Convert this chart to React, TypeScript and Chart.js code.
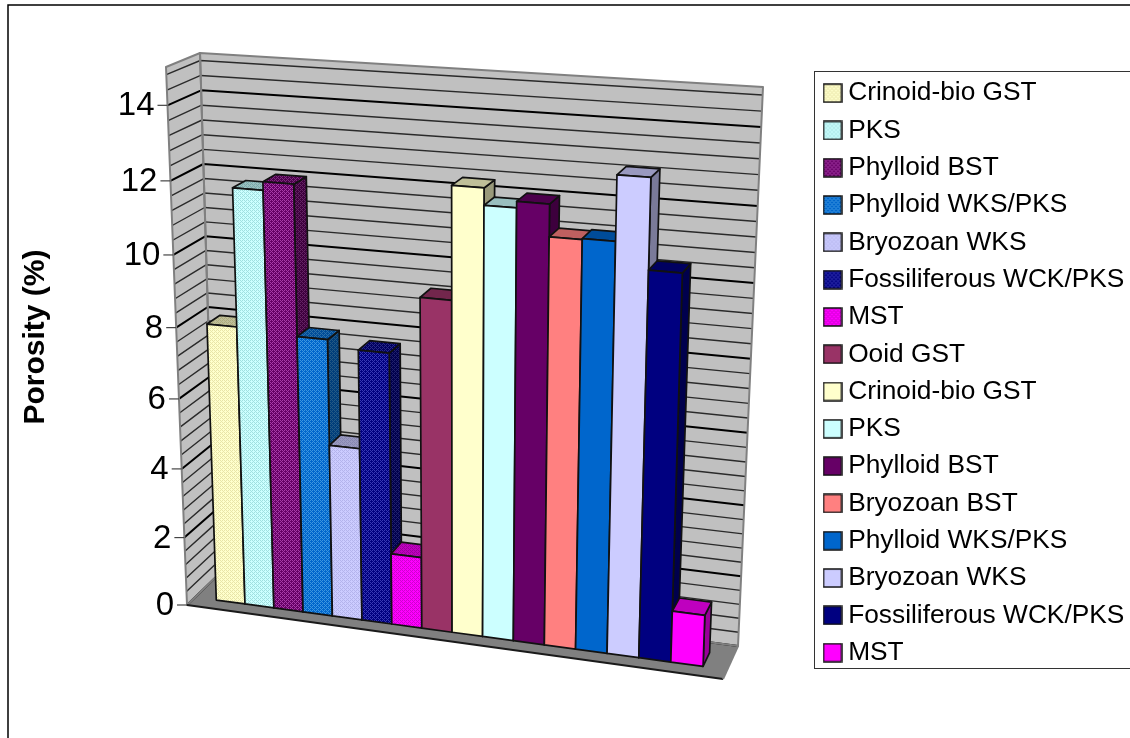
import React, { useEffect, useRef } from "react";
import { Chart, registerables } from "chart.js";

Chart.register(...registerables);

const categories = [""];
const seriesNames = [
  "Crinoid-bio GST", "PKS", "Phylloid BST", "Phylloid WKS/PKS", "Bryozoan WKS", "Fossiliferous WCK/PKS", "MST", "Ooid GST",
  "Crinoid-bio GST", "PKS", "Phylloid BST", "Bryozoan BST", "Phylloid WKS/PKS", "Bryozoan WKS", "Fossiliferous WCK/PKS", "MST",
];
const seriesValues = [8.0, 11.8, 12.03, 7.9, 4.95, 7.7, 2.05, 9.3, 12.33, 11.88, 12.05, 11.2, 11.23, 12.93, 10.56, 1.45];
const baseColors = [
  "#FFFFCC", "#CCFFFF", "#660066", "#0066CC", "#CCCCFF", "#000080", "#FF00FF", "#993366",
  "#FFFFCC", "#CCFFFF", "#660066", "#FF8080", "#0066CC", "#CCCCFF", "#000080", "#FF00FF",
];
const ditherColors = [
  "#E8E4A8", "#A0E0E0", "#A83CA8", "#3C96E0", "#B4B4EC", "#3838B4", "#D000D0", null,
  null, null, null, null, null, null, null, null,
];
const axisMax = 15;
const majorStep = 2;
const minorStep = 0.4;
const axisTitle = "Porosity (%)";

type Pt = [number, number];

const FRONT: Pt[] = [[187, 605], [723, 679], [743, 106], [166, 67]];
const BACK: Pt[] = [[216, 577], [738, 646], [763, 87], [200, 53]];
const BAR_W0 = 0.28;
const BAR_W1 = 0.7;

function homography(q: Pt[]) {
  const [[x0, y0], [x1, y1], [x2, y2], [x3, y3]] = q;
  const dx1 = x1 - x2, dx2 = x3 - x2, sx = x0 - x1 + x2 - x3;
  const dy1 = y1 - y2, dy2 = y3 - y2, sy = y0 - y1 + y2 - y3;
  const den = dx1 * dy2 - dx2 * dy1;
  const g = (sx * dy2 - dx2 * sy) / den;
  const h = (dx1 * sy - sx * dy1) / den;
  const a = x1 - x0 + g * x1, b = x3 - x0 + h * x3;
  const d = y1 - y0 + g * y1, e = y3 - y0 + h * y3;
  return (u: number, v: number): Pt => {
    const w = g * u + h * v + 1;
    return [(a * u + b * v + x0) / w, (d * u + e * v + y0) / w];
  };
}
const hFront = homography(FRONT);
const hBack = homography(BACK);
function project(u: number, v: number, w: number): Pt {
  const p = hFront(u, v), q = hBack(u, v);
  return [p[0] + (q[0] - p[0]) * w, p[1] + (q[1] - p[1]) * w];
}

function poly(ctx: CanvasRenderingContext2D, pts: Pt[]) {
  ctx.beginPath();
  pts.forEach((p, i) => (i ? ctx.lineTo(p[0], p[1]) : ctx.moveTo(p[0], p[1])));
  ctx.closePath();
}

function makeFill(base: string, dither: string | null, ctx: CanvasRenderingContext2D) {
  if (!dither) return base;
  const t = document.createElement("canvas");
  t.width = 4;
  t.height = 4;
  const c = t.getContext("2d")!;
  c.fillStyle = base;
  c.fillRect(0, 0, 4, 4);
  c.fillStyle = dither;
  [[0, 0], [2, 0], [1, 1], [2, 2], [0, 2], [3, 3]].forEach(([x, y]) => c.fillRect(x, y, 1, 1));
  return ctx.createPattern(t, "repeat")!;
}

function makeSwatch(fill: any) {
  const s = document.createElement("canvas");
  s.width = 20;
  s.height = 20;
  const c = s.getContext("2d")!;
  c.fillStyle = fill;
  c.fillRect(1, 1, 18, 18);
  c.strokeStyle = "#111";
  c.lineWidth = 1.5;
  c.strokeRect(1, 1, 18, 18);
  return s;
}

const scene3d = {
  id: "scene3d",
  afterLayout(chart: any) {
    const lg = chart.legend;
    lg.left = 819;
    lg.right = 1130;
    lg.top = 69;
    lg.bottom = 720;
  },
  beforeDraw(chart: any) {
    const ctx = chart.ctx;
    ctx.save();
    ctx.fillStyle = "#fff";
    ctx.fillRect(0, 0, chart.width, chart.height);
    ctx.strokeStyle = "#000";
    ctx.lineWidth = 1.5;
    ctx.beginPath();
    ctx.moveTo(8, 738);
    ctx.lineTo(8, 5);
    ctx.lineTo(1130, 5);
    ctx.stroke();
    ctx.strokeStyle = "#333";
    ctx.lineWidth = 1;
    ctx.strokeRect(814.5, 71.5, 320, 597);
    ctx.restore();
  },
  beforeDatasetsDraw(chart: any) {
    const ctx: CanvasRenderingContext2D = chart.ctx;
    const ca = chart.chartArea;
    const y = chart.scales.y;
    const vOf = (val: number) => (ca.bottom - y.getPixelForValue(val)) / ca.height;
    ctx.save();
    ctx.lineJoin = "round";

    // floor and walls
    ctx.fillStyle = "#808080";
    poly(ctx, [project(0, 0, 0), project(1, 0, 0), project(1, 0, 1), project(0, 0, 1)]);
    ctx.fill();
    ctx.fillStyle = "#C0C0C0";
    const leftWall = [project(0, 0, 0), project(0, 0, 1), project(0, 1, 1), project(0, 1, 0)];
    const backWall = [project(0, 0, 1), project(1, 0, 1), project(1, 1, 1), project(0, 1, 1)];
    poly(ctx, leftWall);
    ctx.fill();
    poly(ctx, backWall);
    ctx.fill();

    // gridlines on both walls
    const count = Math.floor(y.max / minorStep + 1e-6);
    for (let i = 0; i <= count; i++) {
      const val = i * minorStep;
      const major = Math.abs(val / majorStep - Math.round(val / majorStep)) < 1e-6;
      const v = vOf(val);
      ctx.strokeStyle = major ? "#000" : "#2a2a2a";
      ctx.lineWidth = major ? 2 : 1.4;
      ctx.beginPath();
      const a = project(0, v, 0), b = project(0, v, 1), c = project(1, v, 1);
      ctx.moveTo(a[0], a[1]);
      ctx.lineTo(b[0], b[1]);
      ctx.lineTo(c[0], c[1]);
      ctx.stroke();
    }

    // wall outlines
    ctx.strokeStyle = "#808080";
    ctx.lineWidth = 2;
    poly(ctx, leftWall);
    ctx.stroke();
    poly(ctx, backWall);
    ctx.stroke();
    ctx.strokeStyle = "#1a1a1a";
    ctx.beginPath();
    const fa = project(0, 0, 0), fb = project(1, 0, 0), fc = project(1, 0, 1);
    ctx.moveTo(fa[0], fa[1]);
    ctx.lineTo(fb[0], fb[1]);
    ctx.stroke();
    ctx.strokeStyle = "#808080";
    ctx.beginPath();
    ctx.moveTo(fb[0], fb[1]);
    ctx.lineTo(fc[0], fc[1]);
    ctx.stroke();

    // axis ticks and labels from the scale
    ctx.textAlign = "right";
    ctx.textBaseline = "middle";
    ctx.font = "33px 'Liberation Sans'";
    y.ticks.forEach((t: any) => {
      const p = project(0, vOf(t.value), 0);
      ctx.strokeStyle = "#444";
      ctx.lineWidth = 1.2;
      ctx.beginPath();
      ctx.moveTo(p[0] - 10, p[1]);
      ctx.lineTo(p[0], p[1]);
      ctx.stroke();
      ctx.fillStyle = "#000";
      ctx.fillText(String(t.label), p[0] - 13, p[1] + 1);
    });

    // bars, left to right
    chart.data.datasets.forEach((ds: any, i: number) => {
      const el = chart.getDatasetMeta(i).data[0];
      const u0 = (el.x - el.width / 2 - ca.left) / ca.width;
      const u1 = (el.x + el.width / 2 - ca.left) / ca.width;
      const v0 = (ca.bottom - el.base) / ca.height;
      const v1 = (ca.bottom - el.y) / ca.height;
      const front = [project(u0, v0, BAR_W0), project(u1, v0, BAR_W0), project(u1, v1, BAR_W0), project(u0, v1, BAR_W0)];
      const top = [project(u0, v1, BAR_W0), project(u1, v1, BAR_W0), project(u1, v1, BAR_W1), project(u0, v1, BAR_W1)];
      const side = [project(u1, v0, BAR_W0), project(u1, v0, BAR_W1), project(u1, v1, BAR_W1), project(u1, v1, BAR_W0)];
      const face = (pts: Pt[], shade: number) => {
        poly(ctx, pts);
        ctx.fillStyle = ds.backgroundColor;
        ctx.fill();
        if (shade) {
          ctx.fillStyle = `rgba(0,0,0,${shade})`;
          ctx.fill();
        }
        ctx.strokeStyle = "#111";
        ctx.lineWidth = 1.7;
        ctx.stroke();
      };
      face(side, 0.4);
      face(top, 0.25);
      face(front, 0);
    });
    ctx.restore();
    return false;
  },
};

export default function App() {
  const ref = useRef<HTMLCanvasElement>(null);
  useEffect(() => {
    const canvas = ref.current!;
    const ctx = canvas.getContext("2d")!;
    const fills = baseColors.map((b, i) => makeFill(b, ditherColors[i], ctx));
    const chart = new Chart(canvas, {
      type: "bar",
      data: {
        labels: categories,
        datasets: seriesNames.map((label, i) => ({
          label,
          data: [seriesValues[i]],
          backgroundColor: fills[i] as any,
          barPercentage: 1,
          categoryPercentage: 0.915,
        })),
      },
      options: {
        responsive: false,
        animation: false,
        layout: { padding: { left: 14, right: 0, top: 27, bottom: 91 } },
        scales: {
          x: { display: false },
          y: {
            min: 0,
            max: axisMax,
            grid: { display: false },
            border: { display: false },
            ticks: { display: false, stepSize: majorStep, includeBounds: false },
            title: {
              display: true,
              text: axisTitle,
              color: "#000",
              font: { family: "'Liberation Sans'", size: 30, weight: "bold" },
            },
          },
        },
        plugins: {
          tooltip: { enabled: false },
          legend: {
            position: "right",
            align: "start",
            labels: {
              color: "#000",
              font: { family: "'Liberation Sans'", size: 26.3 },
              usePointStyle: true,
              pointStyleWidth: 5,
              boxHeight: 18,
              padding: 11,
              generateLabels: (c: any) =>
                c.data.datasets.map((ds: any, i: number) => ({
                  text: ds.label,
                  pointStyle: makeSwatch(ds.backgroundColor),
                  datasetIndex: i,
                  hidden: false,
                  lineWidth: 0,
                  fontColor: "#000",
                })),
            },
          },
        },
      } as any,
      plugins: [scene3d as any],
    });
    return () => chart.destroy();
  }, []);
  return (
    <canvas
      ref={ref}
      width={1130}
      height={738}
      style={{ position: "fixed", left: 0, top: 0, display: "block" }}
    />
  );
}
